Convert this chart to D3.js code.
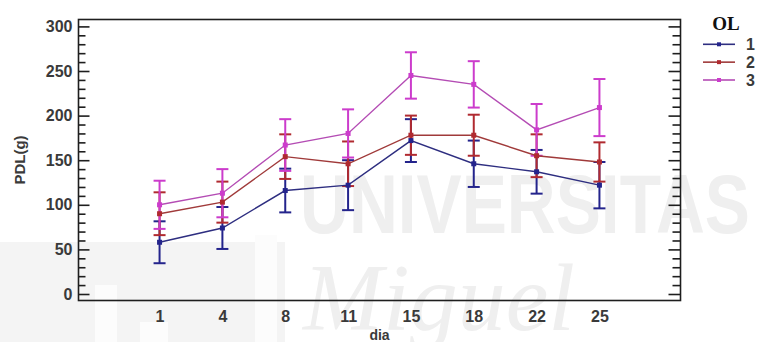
<!DOCTYPE html>
<html>
<head>
<meta charset="utf-8">
<script src="https://cdn.jsdelivr.net/npm/d3@7"></script>
<style>
  html, body { margin: 0; padding: 0; background: #fff; }
  svg { display: block; }
  text { font-family: "Liberation Sans", Arial, sans-serif; }
</style>
</head>
<body>
<svg id="chart" width="758" height="342"></svg>
<script>
// Days on the x axis (categorical)
const days = ['1', '4', '8', '11', '15', '18', '22', '25'];

// Legend entries (OL levels)
const olLevels = ['1', '2', '3'];

// Means of PDL(g) per day for each OL level
const meansOL1 = [58, 74, 116, 122, 172, 146, 137, 122];
const meansOL2 = [90, 103, 154, 146, 178, 178, 155, 148];
const meansOL3 = [100, 113, 167, 180, 245, 235, 184, 209];

// Half-width of the interval drawn around each mean
const halfOL1 = [23.5, 23.5, 24.5, 28, 24, 26, 24.5, 26];
const halfOL2 = [24, 23, 25, 25, 22, 23, 24, 22];
const halfOL3 = [27, 27, 29, 27, 26, 26, 29, 32];

// Y axis ticks
const yMajorTicks = [0, 50, 100, 150, 200, 250, 300];
const yMinorTicks = d3.range(0, 301, 10);

const colors = ['#24248c', '#b02a30', '#cc3ccc'];
const lineColors = ['#2e2e80', '#a03a3a', '#b44cb4'];

const series = olLevels.map((lvl, i) => ({
  level: lvl,
  means: [meansOL1, meansOL2, meansOL3][i],
  half: [halfOL1, halfOL2, halfOL3][i],
  color: colors[i],
  lineColor: lineColors[i]
}));

const svg = d3.select('#chart');

const frame = { left: 78.5, right: 680.5, top: 19.5, bottom: 300.5 };

const x = d3.scalePoint().domain(days).range([frame.left, frame.right]).padding(1.29);
const y = d3.scaleLinear().domain([0, 300]).range([294, 26.4]);

// Faint background watermark
const wm = svg.append('g').attr('class', 'watermark');
wm.append('rect').attr('x', 0).attr('y', 242).attr('width', 285).attr('height', 100).attr('fill', '#f4f4f4');
[[95, 285, 22, 57], [140, 322, 28, 20], [255, 235, 22, 107]].forEach(r => {
  wm.append('rect').attr('x', r[0]).attr('y', r[1]).attr('width', r[2]).attr('height', r[3]).attr('fill', '#fcfcfc');
});
wm.append('text')
  .attr('x', 300).attr('y', 233)
  .attr('textLength', 450).attr('lengthAdjust', 'spacingAndGlyphs')
  .style('font-family', '"Liberation Sans", Arial, sans-serif')
  .style('font-weight', 'bold').style('font-size', '84px')
  .attr('fill', '#efefef')
  .text('UNIVERSITAS');
wm.append('text')
  .attr('x', 303).attr('y', 330)
  .attr('textLength', 272).attr('lengthAdjust', 'spacingAndGlyphs')
  .style('font-family', '"Liberation Serif", "Times New Roman", serif')
  .style('font-style', 'italic').style('font-size', '96px')
  .attr('fill', '#efefef')
  .text('Miguel');

// Frame
svg.append('rect')
  .attr('x', frame.left).attr('y', frame.top)
  .attr('width', frame.right - frame.left).attr('height', frame.bottom - frame.top)
  .attr('fill', 'none').attr('stroke', '#1e1e1e').attr('stroke-width', 1.6);

// Left axis: major ticks with labels, pointing inward
const leftMajor = d3.axisLeft(y).tickValues(yMajorTicks).tickSizeInner(-11).tickSizeOuter(0).tickPadding(6);
const gL = svg.append('g').attr('transform', `translate(${frame.left},0)`).call(leftMajor);
gL.select('.domain').remove();
gL.selectAll('line').attr('stroke', '#1e1e1e').attr('stroke-width', 1.6);
gL.selectAll('text')
  .style('font-size', '16px').style('font-weight', 'bold')
  .style('font-family', '"Liberation Sans", Arial, sans-serif')
  .attr('fill', '#3a3a3a');

const leftMinor = d3.axisLeft(y).tickValues(yMinorTicks.filter(v => v % 50 !== 0)).tickSizeInner(-7).tickSizeOuter(0).tickFormat('');
const gLm = svg.append('g').attr('transform', `translate(${frame.left},0)`).call(leftMinor);
gLm.select('.domain').remove();
gLm.selectAll('line').attr('stroke', '#1e1e1e').attr('stroke-width', 1.6);

// Right axis: mirrored ticks, no labels
const rightMajor = d3.axisRight(y).tickValues(yMajorTicks).tickSizeInner(-12).tickSizeOuter(0).tickFormat('');
const gR = svg.append('g').attr('transform', `translate(${frame.right},0)`).call(rightMajor);
gR.select('.domain').remove();
gR.selectAll('line').attr('stroke', '#1e1e1e').attr('stroke-width', 1.6);
const rightMinor = d3.axisRight(y).tickValues(yMinorTicks.filter(v => v % 50 !== 0)).tickSizeInner(-8).tickSizeOuter(0).tickFormat('');
const gRm = svg.append('g').attr('transform', `translate(${frame.right},0)`).call(rightMinor);
gRm.select('.domain').remove();
gRm.selectAll('line').attr('stroke', '#1e1e1e').attr('stroke-width', 1.6);

// Bottom axis: labels only
const bottom = d3.axisBottom(x).tickSize(0).tickPadding(10);
const gB = svg.append('g').attr('transform', `translate(0,${frame.bottom})`).call(bottom);
gB.select('.domain').remove();
gB.selectAll('text')
  .style('font-size', '16px').style('font-weight', 'bold')
  .style('font-family', '"Liberation Sans", Arial, sans-serif')
  .attr('fill', '#3a3a3a');

// Axis titles
svg.append('text')
  .attr('x', (frame.left + frame.right) / 2).attr('y', 340)
  .attr('text-anchor', 'middle')
  .style('font-size', '14px').style('font-weight', 'bold')
  .attr('fill', '#3a3a3a')
  .text('dia');
svg.append('text')
  .attr('transform', `translate(25,${(frame.top + frame.bottom) / 2}) rotate(-90)`)
  .attr('text-anchor', 'middle')
  .style('font-size', '15px').style('font-weight', 'bold')
  .attr('fill', '#3a3a3a')
  .text('PDL(g)');

// Series: interval bars, connecting lines and mean markers
const line = d3.line().x((d, i) => x(days[i])).y(d => y(d));
const capW = 6;

series.forEach(s => {
  const g = svg.append('g').attr('class', 'series');
  // interval bars
  days.forEach((day, i) => {
    const cx = x(day);
    const lo = y(s.means[i] - s.half[i]);
    const hi = y(s.means[i] + s.half[i]);
    g.append('line').attr('x1', cx).attr('x2', cx).attr('y1', lo).attr('y2', hi)
      .attr('stroke', s.color).attr('stroke-width', 2);
    [lo, hi].forEach(yy => {
      g.append('line').attr('x1', cx - capW).attr('x2', cx + capW).attr('y1', yy).attr('y2', yy)
        .attr('stroke', s.color).attr('stroke-width', 2);
    });
  });
});

series.forEach(s => {
  svg.append('path').datum(s.means)
    .attr('d', line).attr('fill', 'none')
    .attr('stroke', s.lineColor).attr('stroke-width', 1.4);
  svg.append('g').selectAll('rect').data(s.means).join('rect')
    .attr('x', (d, i) => x(days[i]) - 2.5).attr('y', d => y(d) - 2.5)
    .attr('width', 5).attr('height', 5)
    .attr('fill', s.color);
});

// Legend
const legend = svg.append('g').attr('class', 'legend');
legend.append('text')
  .attr('x', 726).attr('y', 30)
  .attr('text-anchor', 'middle')
  .style('font-family', '"Liberation Serif", "Times New Roman", serif')
  .style('font-weight', 'bold').style('font-size', '19px')
  .attr('fill', '#111')
  .text('OL');
const legendRow = d3.scaleLinear().domain([0, 2]).range([44.3, 80]);
series.forEach((s, i) => {
  const ly = legendRow(i);
  legend.append('line').attr('x1', 703).attr('x2', 735).attr('y1', ly).attr('y2', ly)
    .attr('stroke', s.lineColor).attr('stroke-width', 1.6);
  legend.append('rect').attr('x', 717).attr('y', ly - 2).attr('width', 4).attr('height', 4).attr('fill', s.color);
  legend.append('text')
    .attr('x', 746).attr('y', ly + 6)
    .style('font-size', '16px').style('font-weight', 'bold')
    .attr('fill', '#3a3a3a')
    .text(s.level);
});
</script>
</body>
</html>
